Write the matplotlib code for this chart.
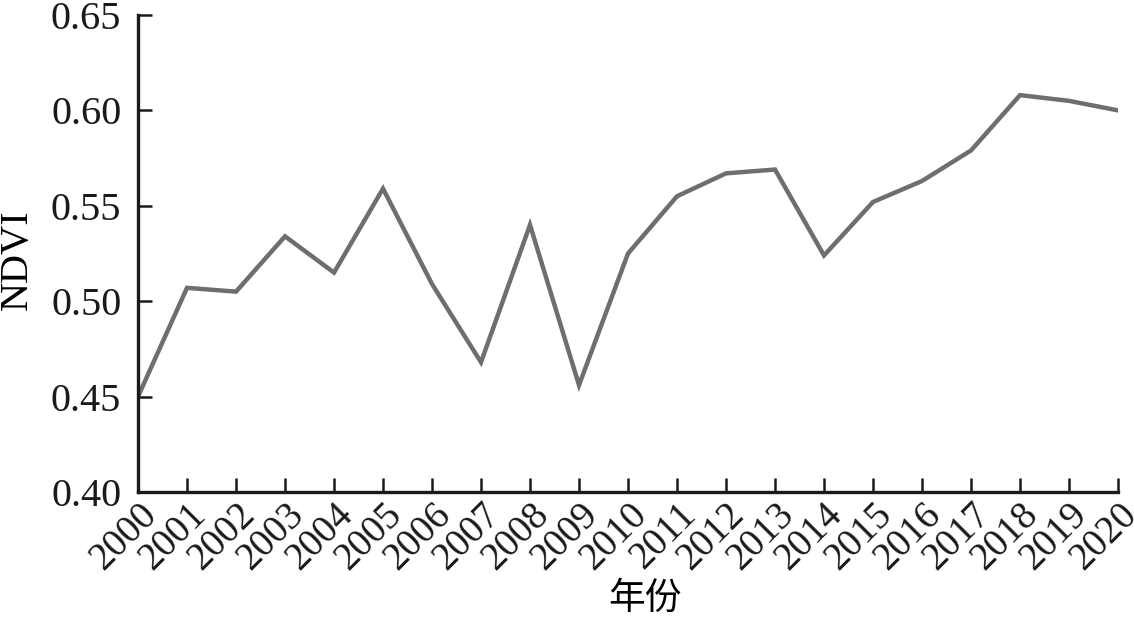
import matplotlib
matplotlib.use("Agg")
import matplotlib.pyplot as plt

years = list(range(2000, 2021))
ndvi = [0.450, 0.507, 0.505, 0.534, 0.515, 0.559, 0.509, 0.468, 0.540, 0.456,
        0.525, 0.555, 0.567, 0.569, 0.524, 0.552, 0.563, 0.579, 0.608, 0.605, 0.600]
yticks = [0.40, 0.45, 0.50, 0.55, 0.60, 0.65]

plt.rcParams['font.family'] = ['Liberation Serif', 'Noto Sans CJK SC']
fig = plt.figure(figsize=(11.34, 6.17), dpi=100)
ax = fig.add_axes([0.1217, 0.2026, 0.8642, 0.7731])
ax.plot(years, ndvi, color='#6e6e6e', lw=3.2, solid_joinstyle='miter')
ax.set_xlim(2000, 2020)
ax.set_ylim(0.40, 0.65)
ax.set_yticks(yticks)
ax.set_yticklabels([f"{v:.2f}" for v in yticks])
ax.set_xticks(years)
ax.set_xticklabels([str(y) for y in years], rotation=45, ha='right', rotation_mode='anchor')
for s in ['top', 'right']:
    ax.spines[s].set_visible(False)
for s in ['left', 'bottom']:
    ax.spines[s].set_linewidth(2.4)
    ax.spines[s].set_color('#1a1a1a')
ax.tick_params(direction='in', length=10, width=1.8, labelsize=29, colors='#1a1a1a')
ax.tick_params(axis='y', pad=12)
ax.tick_params(axis='x', pad=3, labelsize=28)
ax.set_ylabel('NDVI', fontsize=29)
ax.yaxis.set_label_coords(-0.104, 0.486)
ax.set_xlabel('年份', fontsize=26.5, family=['Noto Sans CJK SC'])
ax.xaxis.set_label_coords(0.517, -0.183)
fig.savefig('out.png', dpi=100)
